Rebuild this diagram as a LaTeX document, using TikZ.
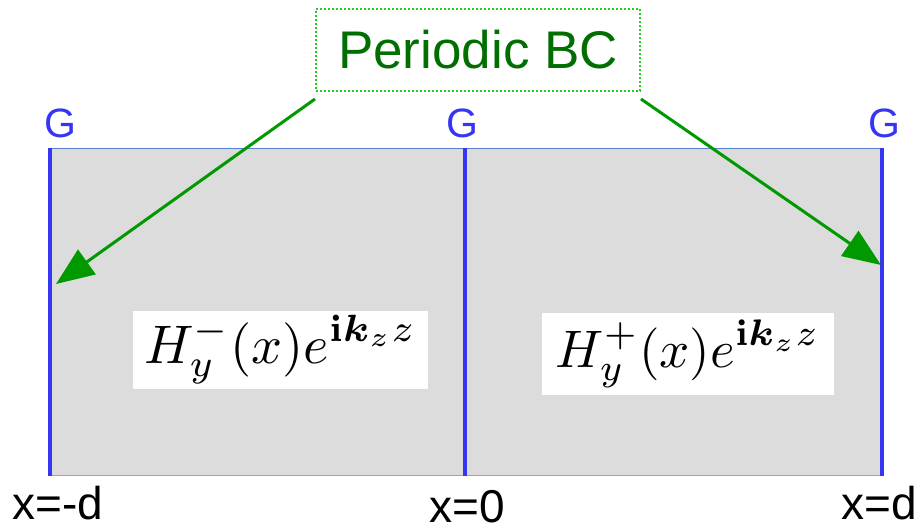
\documentclass[tikz,border=0pt]{standalone}
\usepackage{amsmath,amssymb,bm}
\usepackage[no-math]{fontspec}
\setmainfont{Liberation Sans}
\usetikzlibrary{arrows.meta}
\definecolor{gfill}{HTML}{DCDCDC}
\definecolor{bline}{HTML}{3535F5}
\definecolor{bthin}{HTML}{5B7FD0}
\definecolor{garrow}{HTML}{009A00}
\definecolor{gtext}{HTML}{006E00}
\definecolor{gdot}{HTML}{22CC22}
\newcommand{\formtext}[2]{\resizebox{#1}{!}{$\displaystyle #2$}}
\tikzset{
  wall/.style={draw=bline, line width=4pt},
  glabel/.style={text=bline, font=\fontsize{41}{44}\selectfont, inner sep=0pt, anchor=base},
  xlabel/.style={text=black, font=\fontsize{46}{50}\selectfont, inner sep=0pt, anchor=base},
  formbox/.style={fill=white, minimum width=295pt, minimum height=78pt, inner sep=0pt},
  pbcbox/.style={draw=gdot, line width=2pt, dotted, minimum width=324pt, minimum height=82pt, text=gtext, font=\fontsize{53}{60}\selectfont, inner sep=0pt},
  pbcarrow/.style={draw=garrow, line width=3pt, -{Triangle[length=38pt,width=30pt]}}
}
\begin{document}
\begin{tikzpicture}[x=1pt,y=-1pt]
\useasboundingbox (0,0) rectangle (922,530);
% domain
\fill[gfill] (50,148) rectangle (882,476);
\draw[bthin, line width=1.2pt] (48,148.5) -- (884,148.5);
\draw[bthin!70, line width=1.5pt] (48,475.5) -- (884,475.5);
\coordinate (lt) at (50,148); \coordinate (lb) at (50,476);
\coordinate (mt) at (465,148); \coordinate (mb) at (465,476);
\coordinate (rt) at (882,148); \coordinate (rb) at (882,476);
\draw[wall] (lt) -- (lb);
\draw[wall] (mt) -- (mb);
\draw[wall] (rt) -- (rb);
% formulas
\node[formbox] (fl) at (280.5,349.5) {\formtext{272pt}{H_y^{-}(x)e^{\mathbf{i}\bm{k}_z z}}};
\node[formbox, minimum width=292pt, minimum height=82pt] (fr) at (688,354) {\formtext{264pt}{H_y^{+}(x)e^{\mathbf{i}\bm{k}_z z}}};
% G labels
\node[glabel] (g1) at (60,137) {G};
\node[glabel] (g2) at (462,137) {G};
\node[glabel] (g3) at (884,137) {G};
% x labels
\node[xlabel] (x1) at (58,519) {x=-d};
\node[xlabel] (x2) at (467,522) {x=0};
\node[xlabel] (x3) at (879,519) {x=d};
% periodic BC
\node[pbcbox] (pbc) at (478,50) {Periodic BC};
\coordinate (al) at (56,284);
\coordinate (ar) at (881,265);
\draw[pbcarrow] ([yshift=-7pt]pbc.south west) -- (al);
\draw[pbcarrow] ([yshift=-7pt]pbc.south east) -- (ar);
\end{tikzpicture}
\end{document}
